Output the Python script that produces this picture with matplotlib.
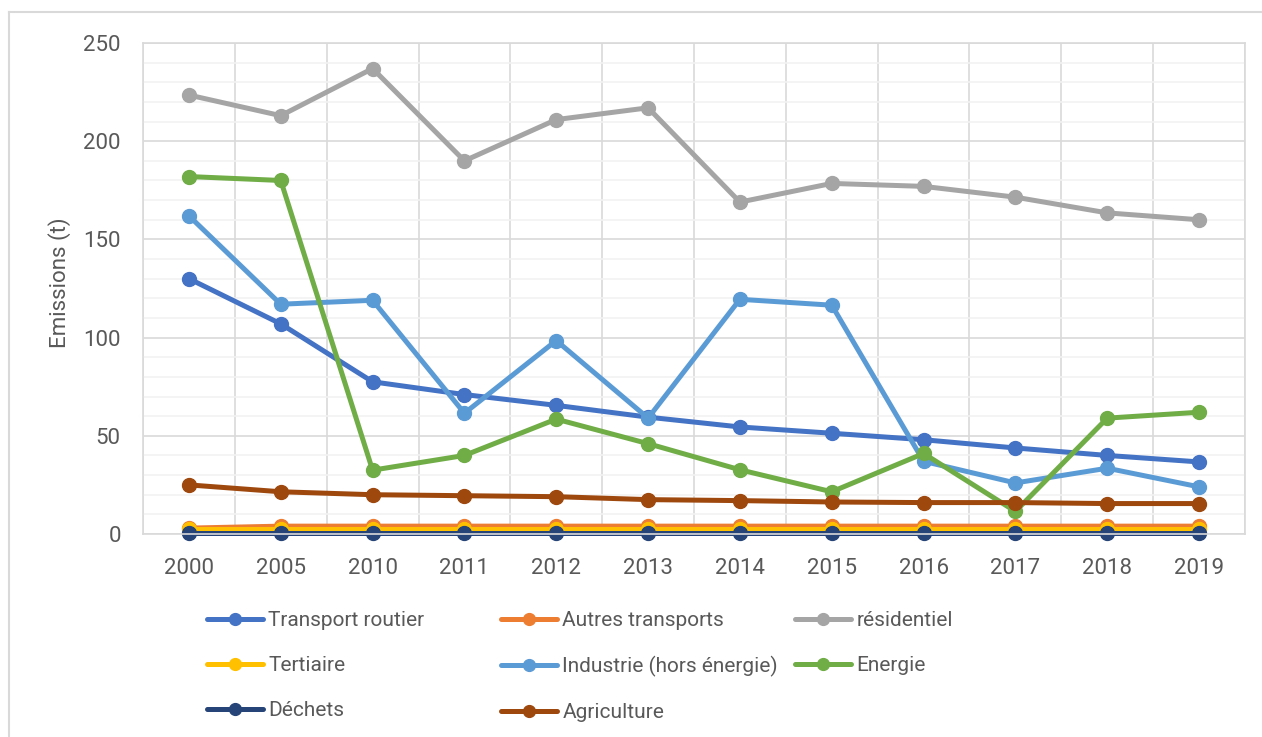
import matplotlib.pyplot as plt
from matplotlib.ticker import MultipleLocator, FixedLocator
from matplotlib.lines import Line2D

plt.rcParams['font.family'] = ['Roboto', 'DejaVu Sans']

years = ['2000', '2005', '2010', '2011', '2012', '2013', '2014', '2015', '2016', '2017', '2018', '2019']

transport = [130, 107, 77.5, 71, 65.5, 59.5, 54.5, 51.3, 48, 43.8, 40, 36.7]
autres = [3, 4, 4, 4, 4, 4, 4, 4, 4, 4, 4, 4]
residentiel = [223.5, 213, 237, 190, 211, 217, 169, 178.5, 177, 171.5, 163.5, 160]
tertiaire = [2.5, 2.5, 2.5, 2.5, 2.5, 2.5, 2.5, 2.5, 2.5, 2.5, 2.5, 2.5]
industrie = [162, 117, 119, 61.5, 98.5, 59, 119.5, 116.5, 37, 26, 33.5, 24]
energie = [182, 180, 32.5, 40, 58.5, 46, 32.7, 21.5, 41, 11.5, 59, 62]
dechets = [0.3, 0.3, 0.3, 0.3, 0.3, 0.3, 0.3, 0.3, 0.3, 0.3, 0.3, 0.3]
agriculture = [25, 21.5, 20, 19.5, 19, 17.5, 17, 16.3, 16, 16, 15.5, 15.5]

series = [
    ('Transport routier', transport, '#4472C4'),
    ('Autres transports', autres, '#ED7D31'),
    ('résidentiel', residentiel, '#A5A5A5'),
    ('Tertiaire', tertiaire, '#FFC000'),
    ('Industrie (hors énergie)', industrie, '#5B9BD5'),
    ('Energie', energie, '#70AD47'),
    ('Déchets', dechets, '#264478'),
    ('Agriculture', agriculture, '#9E480E'),
]

fig = plt.figure(figsize=(12.62, 7.37), dpi=100)
ax = fig.add_axes([143 / 1262, 1 - 534 / 737, 1102 / 1262, 491 / 737])

x = list(range(len(years)))
lines = {}
for name, vals, col in series:
    ln, = ax.plot(x, vals, color=col, lw=3.6, marker='o', ms=10, label=name,
                  solid_capstyle='round', clip_on=False)
    lines[name] = ln

ax.set_xlim(-0.5, len(years) - 0.5)
ax.set_ylim(0, 250)
ax.set_xticks(x)
ax.set_xticklabels(years)
ax.yaxis.set_major_locator(MultipleLocator(50))
ax.yaxis.set_minor_locator(MultipleLocator(10))
ax.xaxis.set_minor_locator(FixedLocator([i - 0.5 for i in range(len(years) + 1)]))
ax.grid(which='minor', axis='y', color='#F2F2F2', lw=1.2)
ax.grid(which='major', axis='y', color='#D9D9D9', lw=1.2)
ax.grid(which='minor', axis='x', color='#D9D9D9', lw=1.2)
ax.set_axisbelow(True)
ax.tick_params(which='both', length=0)
ax.tick_params(axis='x', pad=17, labelsize=16, labelcolor='#595959')
ax.tick_params(axis='y', pad=16, labelsize=16, labelcolor='#595959')
for s in ax.spines.values():
    s.set_color('#D9D9D9')
    s.set_linewidth(1.2)
fig.text(60 / 1262, 1 - 283 / 737, 'Emissions (t)', rotation=90, ha='center', va='center',
         fontsize=16, color='#595959')

# legend laid out in three columns, Excel row-major order
cols = [
    (207, ['Transport routier', 'Tertiaire', 'Déchets']),
    (501, ['Autres transports', 'Industrie (hors énergie)', 'Agriculture']),
    (795, ['résidentiel', 'Energie']),
]
for xpos, names in cols:
    fig.legend([lines[n] for n in names], names, loc='upper left',
               bbox_to_anchor=(xpos / 1262, 1 - 611 / 737), frameon=False,
               fontsize=15, handlelength=2.7, handletextpad=0.25, markerscale=0.85,
               labelspacing=1.25, borderpad=0, borderaxespad=0,
               labelcolor='#595959')

# light frame on top and left edges of the chart area
fig.add_artist(Line2D([9 / 1262, 9 / 1262], [0, 1 - 12 / 737], transform=fig.transFigure,
                      color='#D9D9D9', lw=1.5))
fig.add_artist(Line2D([9 / 1262, 1], [1 - 12 / 737, 1 - 12 / 737], transform=fig.transFigure,
                      color='#D9D9D9', lw=1.5))

fig.savefig('out.png', dpi=100)
